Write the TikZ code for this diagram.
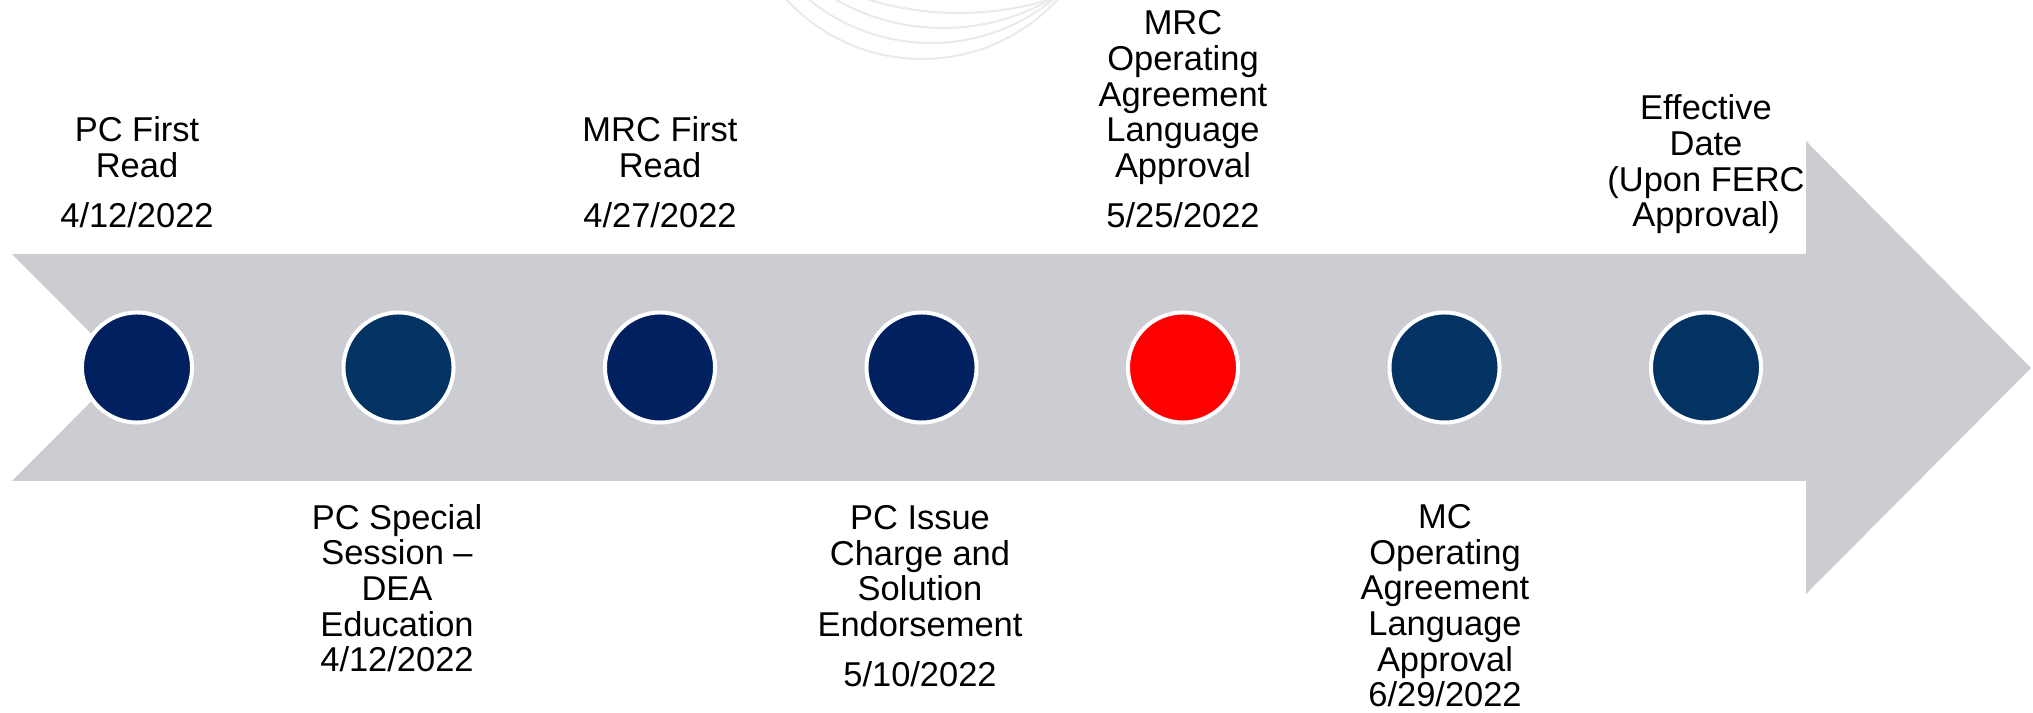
\documentclass[tikz,border=0pt]{standalone}
\usepackage{fontspec}
\setmainfont{Liberation Sans}
\usepackage{xcolor}
\definecolor{arrowgray}{RGB}{203,205,210}
\definecolor{navy}{RGB}{0,32,96}
\definecolor{steelnavy}{RGB}{3,51,99}
\definecolor{arcgray}{RGB}{234,234,234}

\begin{document}
\begin{tikzpicture}[x=0.01cm, y=-0.01cm,
		dot/.style={circle, draw=white, line width=0.04cm, inner sep=0pt, minimum size=1.1cm},
		lbl/.style={align=center, anchor=base, inner sep=0pt, font=\fontsize{9.8}{10.15}\selectfont}]
		\useasboundingbox (0,0) rectangle (2033,713);
		% faint arcs at the top
		\foreach \cx/\cy/\r in {922/-125/184, 931/-150/193, 943/-188/216, 959/-298/311}
			{
				\draw[arcgray, line width=0.02cm] (\cx,\cy) circle[radius=\r*0.01cm];
			}
		% the arrow
		\draw[draw=none, fill=arrowgray] (12,254) -- (1806,254) -- (1806,141) -- (2031,368)
			-- (1806,594) -- (1806,481) -- (12,481) -- (125,367.5) -- cycle;
		% milestones
		\foreach \i/\c in {1/navy,2/steelnavy,3/navy,4/navy,5/red,6/steelnavy,7/steelnavy}
			{
				\node[dot, fill=\c] (m\i) at ({137+261.5*(\i-1)}, 367.5) {};
			}
		% labels, placed by the baseline of their last line
		\node[lbl] (l1) at (137,228) {PC First\\Read\\[4.2pt]4/12/2022};
		\node[lbl] (l3) at (660,228) {MRC First\\Read\\[4.2pt]4/27/2022};
		\node[lbl] (l5) at (1183,228) {MRC\\Operating\\Agreement\\Language\\Approval\\[4.2pt]5/25/2022};
		\node[lbl] (l7) at (1706,227) {Effective\\Date\\(Upon FERC\\Approval)};
		\node[lbl] (l2) at (397,672) {PC Special\\Session –\\DEA\\Education\\4/12/2022};
		\node[lbl] (l4) at (920,687) {PC Issue\\Charge and\\Solution\\Endorsement\\[4.2pt]5/10/2022};
		\node[lbl] (l6) at (1445,707) {MC\\Operating\\Agreement\\Language\\Approval\\6/29/2022};
	\end{tikzpicture}
\end{document}
